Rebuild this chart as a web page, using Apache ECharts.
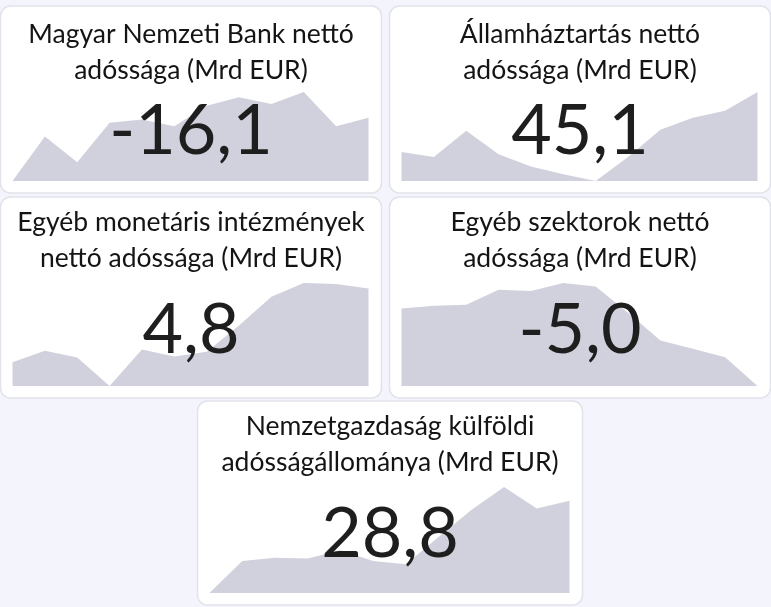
<!DOCTYPE html>
<html>
<head>
<meta charset="utf-8">
<script src="https://cdn.jsdelivr.net/npm/echarts@6/dist/echarts.min.js"></script>
<style>
  html, body { margin: 0; padding: 0; background: #f4f4fc; }
  #main { width: 771px; height: 607px; }
</style>
</head>
<body>
<div id="main"></div>
<script>
// idősor (negyedévek)
const periods = ["2022 Q1", "2022 Q2", "2022 Q3", "2022 Q4", "2023 Q1", "2023 Q2",
  "2023 Q3", "2023 Q4", "2024 Q1", "2024 Q2", "2024 Q3", "2024 Q4"];

// Mrd EUR
const mnbDebt = [-34.6, -21.6, -29.1, -17.6, -16.6, -18.6, -12.6, -10.1, -12.1, -8.6, -18.6, -16.1];
const govDebt = [27.6, 26.1, 33.8, 26.9, 23.3, 21.1, 19.1, 26.1, 34.1, 37.6, 39.6, 45.1];
const bankDebt = [-17.7, -14.2, -16.3, -25.0, -13.8, -16.0, -14.5, -6.5, 2.3, 6.5, 6.2, 4.8];
const otherDebt = [19.3, 20.2, 20.5, 25.2, 24.8, 27.3, 26.2, 18.0, 9.3, 6.7, 4.0, -5.0];
const extDebt = [0.8, 10.5, 11.5, 11.3, 13.8, 10.5, 9.5, 17.8, 26.0, 33.0, 26.5, 28.8];

const titles = [
  "Magyar Nemzeti Bank nettó\nadóssága (Mrd EUR)",
  "Államháztartás nettó\nadóssága (Mrd EUR)",
  "Egyéb monetáris intézmények\nnettó adóssága (Mrd EUR)",
  "Egyéb szektorok nettó\nadóssága (Mrd EUR)",
  "Nemzetgazdaság külföldi\nadósságállománya (Mrd EUR)"
];
const latest = ["-16,1", "45,1", "4,8", "-5,0", "28,8"];
const seriesData = [mnbDebt, govDebt, bankDebt, otherDebt, extDebt];

// kártyák helye
const boxes = [
  { x: 0.5, y: 6, w: 381, h: 187 },
  { x: 389.5, y: 6, w: 381, h: 187 },
  { x: 0.5, y: 197, w: 381, h: 201 },
  { x: 389.5, y: 197, w: 381, h: 201 },
  { x: 197.5, y: 401, w: 385, h: 204 }
];

const font = "Lato, 'Noto Sans', sans-serif";
let chart = echarts.init(document.getElementById("main"));

let grids = [], xAxes = [], yAxes = [], series = [], graphics = [];
boxes.forEach((b, i) => {
  graphics.push({
    type: "rect",
    z: -10,
    shape: { x: b.x, y: b.y, width: b.w, height: b.h, r: 10 },
    style: { fill: "#ffffff", stroke: "#e2e2ea", lineWidth: 1.5 }
  });
  graphics.push({
    type: "text",
    z: 50,
    style: {
      text: titles[i], x: b.x + b.w / 2, y: b.y + (b.h > 190 ? 7 : 10),
      textAlign: "center", textVerticalAlign: "top",
      font: "26.5px " + font, lineHeight: 36, fill: "#141414"
    }
  });
  graphics.push({
    type: "text",
    z: 50,
    style: {
      text: latest[i], x: b.x + b.w / 2, y: b.y + (b.h > 190 ? 133 : 125),
      textAlign: "center", textVerticalAlign: "middle",
      font: "70px " + font, fill: "#1e1e1e"
    }
  });
  grids.push({ left: b.x + 12, top: b.y + 86, width: b.w - 25, height: b.h - 98 });
  xAxes.push({ gridIndex: i, type: "category", data: periods, boundaryGap: false, show: false });
  yAxes.push({ gridIndex: i, type: "value", min: "dataMin", max: "dataMax", show: false });
  series.push({
    type: "line",
    xAxisIndex: i,
    yAxisIndex: i,
    data: seriesData[i],
    showSymbol: false,
    silent: true,
    lineStyle: { width: 0 },
    areaStyle: { color: "#d1d1dd", opacity: 1, origin: "start" }
  });
});

chart.setOption({
  animation: false,
  backgroundColor: "#f4f4fc",
  grid: grids,
  xAxis: xAxes,
  yAxis: yAxes,
  series: series,
  graphic: graphics
});
</script>
</body>
</html>
